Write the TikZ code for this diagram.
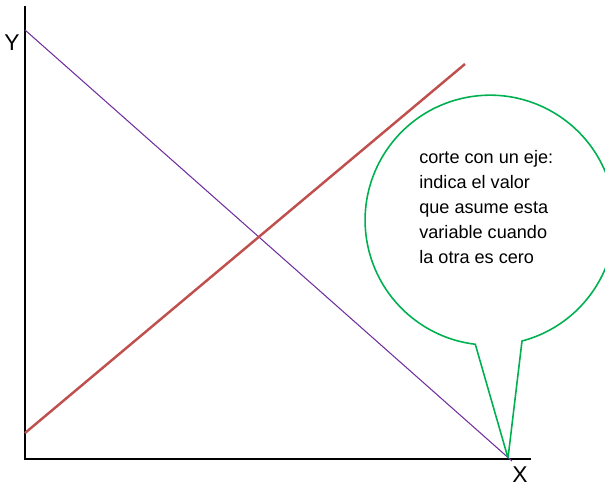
\documentclass[tikz,border=0pt]{standalone}
\usepackage{fontspec}
\setmainfont{Liberation Sans}
\definecolor{violeta}{HTML}{7030A0}
\definecolor{rojo}{HTML}{C0504D}
\definecolor{verde}{HTML}{00B050}

\begin{document}
\begin{tikzpicture}[x=0.02cm, y=0.02cm,
  etiqueta/.style={font=\fontsize{13}{15}\selectfont, inner sep=1pt}]
  \useasboundingbox (0,0) rectangle (605,487);
  \clip (0,0) rectangle (605,487);
  % ejes
  \draw[line width=1.7pt] (25,481) -- (25,28) -- (531,28);
  \node[etiqueta] (Y) at (12,444) {Y};
  \node[etiqueta] (X) at (520,12) {X};
  % rectas
  \draw[violeta, line width=0.6pt] (25,457) -- (512,26);
  \draw[rojo, line width=1.4pt] (25,54) -- (465,423);
  % globo
  \coordinate (punta) at (508,29);
  \draw[verde, line width=0.9pt] (punta) -- (522,146)
    arc[start angle=-75.2, end angle=263.2, radius=2.5cm] -- (punta);
  \node[anchor=north west, inner sep=0, align=left,
    font=\fontsize{10.3}{14.2}\selectfont] (texto) at (419,337)
    {corte con un eje:\\indica el valor\\que asume esta\\variable cuando\\la otra es cero};
\end{tikzpicture}
\end{document}
